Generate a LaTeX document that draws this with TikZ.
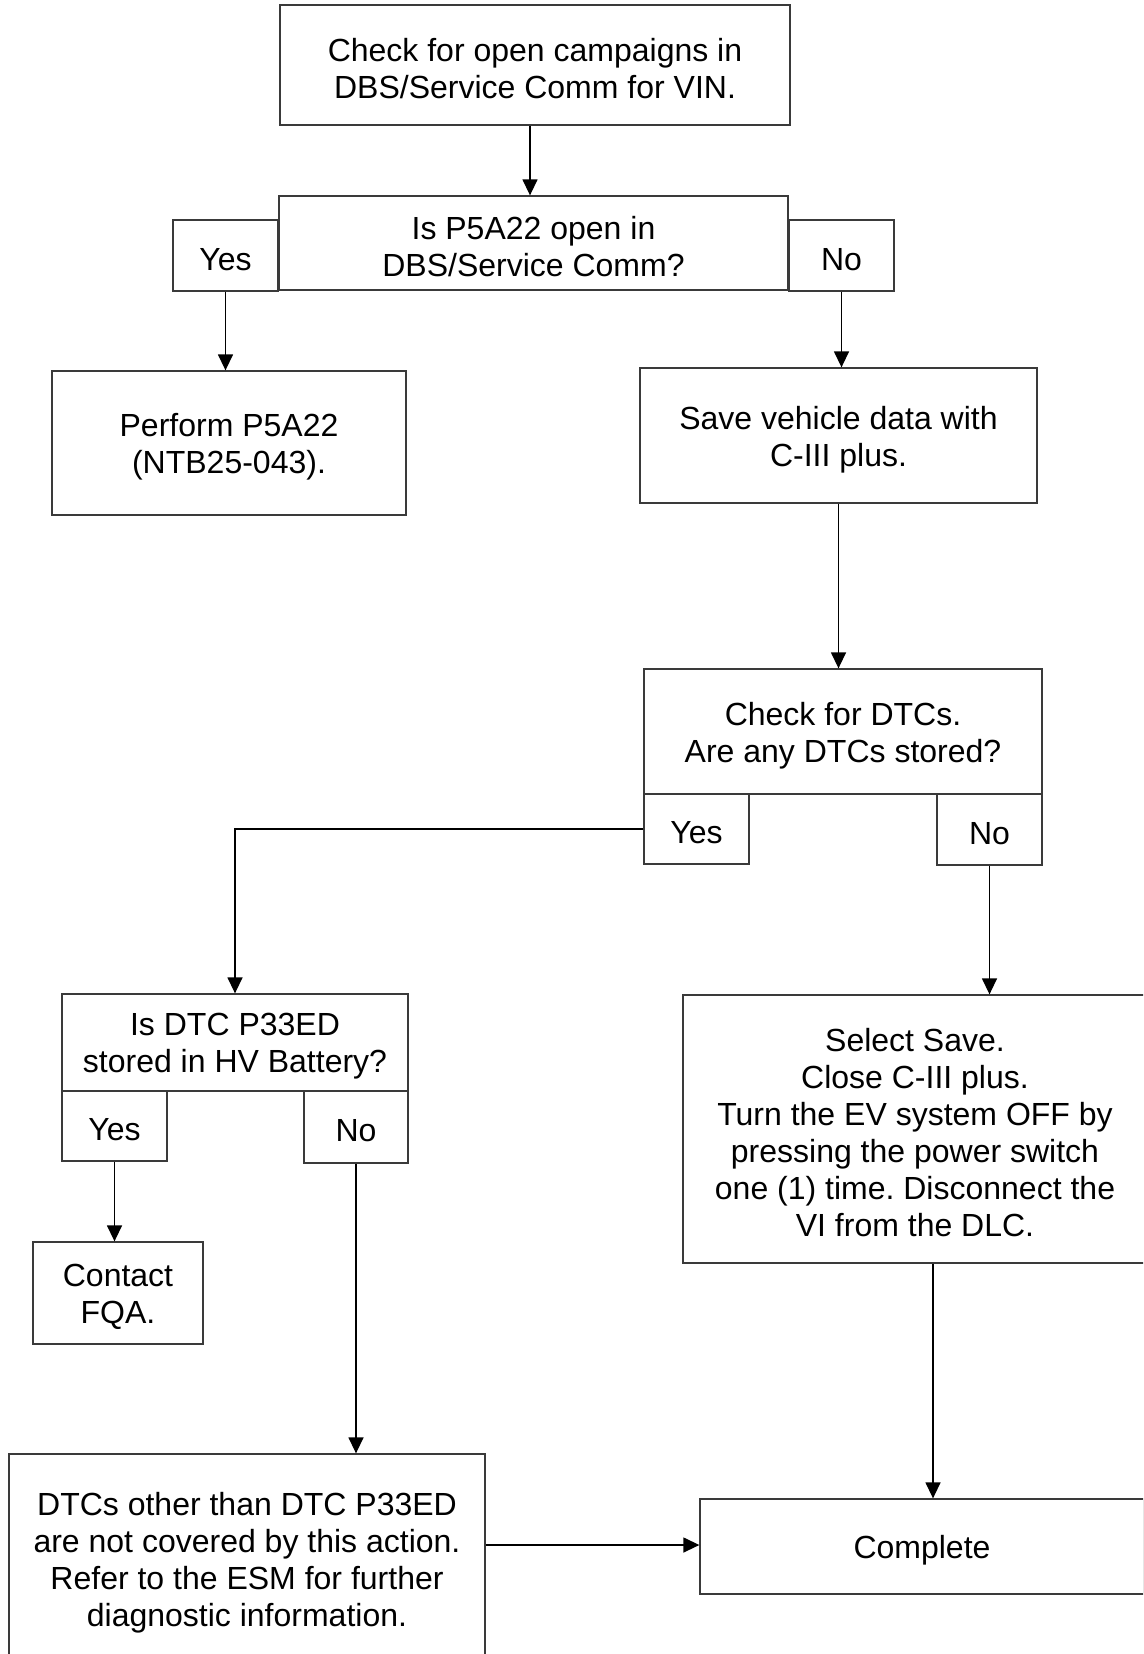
\documentclass[tikz,border=0pt]{standalone}
\usepackage{fontspec}
\setmainfont{Liberation Sans}
\usetikzlibrary{arrows.meta}
\definecolor{boxgray}{HTML}{3A3A3A}
\frenchspacing
\tikzset{
  fbox/.style={draw=boxgray, line width=1.3pt, inner sep=0pt},
  txt/.style={inner sep=0pt, align=center, font=\fontsize{32}{37}\selectfont\frenchspacing},
  arr/.style={draw=black, line width=1.4pt, -{Triangle[length=16pt,width=15pt]}},
}
% #1 name, #2 center, #3 width, #4 height, #5 text
\newcommand\flowbox[5]{%
  \node[fbox, minimum width=#3, minimum height=#4] (#1) at (#2) {};
  \node[txt] (#1-t) at ([yshift=-4pt]#1.center) {#5};}
\begin{document}
\begin{tikzpicture}[x=1pt,y=-1pt]
\useasboundingbox (0,0) rectangle (1143,1654);
\clip (0,0) rectangle (1143,1654);
\fill[white] (0,0) rectangle (1143,1654);

\flowbox{b1}{535,65}{510pt}{120pt}{Check for open campaigns in\\DBS/Service Comm for VIN.}
\flowbox{b2}{533.5,243}{509pt}{94pt}{Is P5A22 open in\\DBS/Service Comm?}
\flowbox{yes1}{225.5,255.5}{105pt}{71pt}{Yes}
\flowbox{no1}{841.5,255.5}{105pt}{71pt}{No}
\flowbox{perf}{229,443}{354pt}{144pt}{Perform P5A22\\(NTB25-043).}
\flowbox{save}{838.5,435.5}{397pt}{135pt}{Save vehicle data with\\C-III plus.}
\flowbox{chk}{843,731.5}{398pt}{125pt}{Check for DTCs.\\Are any DTCs stored?}
\flowbox{yes2}{696.5,829}{105pt}{70pt}{Yes}
\flowbox{no2}{989.5,829.5}{105pt}{71pt}{No}
\flowbox{p33}{235,1042.5}{346pt}{97pt}{Is DTC P33ED\\stored in HV Battery?}
\flowbox{yes3}{114.5,1126}{105pt}{70pt}{Yes}
\flowbox{no3}{356,1127}{104pt}{72pt}{No}
\flowbox{sel}{915,1129}{464pt}{268pt}{Select Save.\\Close C-III plus.\\Turn the EV system OFF by\\pressing the power switch\\one (1) time. Disconnect the\\VI from the DLC.}
\flowbox{fqa}{118,1293}{170pt}{102pt}{Contact\\FQA.}
\flowbox{oth}{247,1559}{476pt}{210pt}{DTCs other than DTC P33ED\\are not covered by this action.\\Refer to the ESM for further\\diagnostic information.}
\flowbox{comp}{922,1546.5}{444pt}{95pt}{Complete}

\coordinate (x530) at (530,0);
\coordinate (x933) at (933,0);
\coordinate (y1545) at (0,1545);

\draw[arr] (b1.south -| x530) -- (b2.north -| x530);
\draw[arr] (yes1.south) -- (yes1.south |- perf.north);
\draw[arr] (no1.south) -- (no1.south |- save.north);
\draw[arr] (save.south) -- (save.south |- chk.north);
\draw[arr] (yes2.west) -| (p33.north);
\draw[arr] (no2.south) -- (no2.south |- sel.north);
\draw[arr] (yes3.south) -- (yes3.south |- fqa.north);
\draw[arr] (no3.south) -- (no3.south |- oth.north);
\draw[arr] (sel.south -| x933) -- (comp.north -| x933);
\draw[arr] (oth.east |- y1545) -- (comp.west |- y1545);
\end{tikzpicture}
\end{document}
